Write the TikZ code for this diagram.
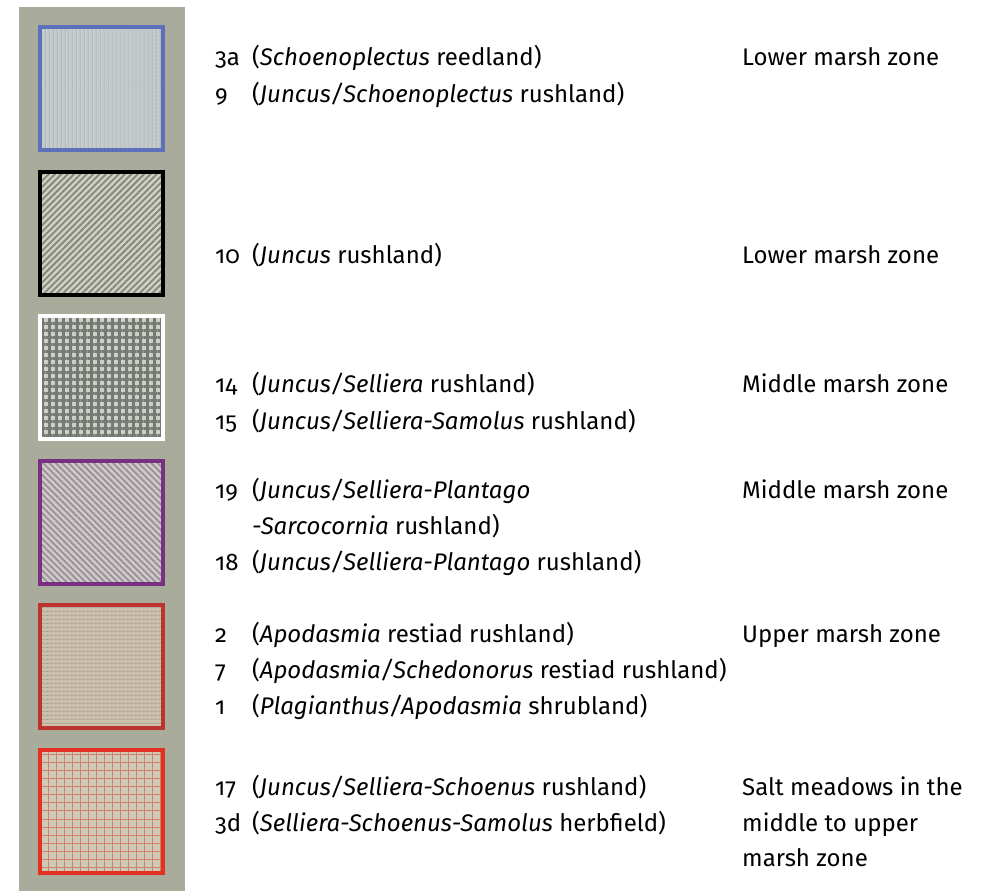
\documentclass[tikz,border=0pt]{standalone}
\usepackage{fontspec}
\setmainfont{Fira Sans}[Numbers=OldStyle]
\usetikzlibrary{patterns.meta}
\definecolor{stripgrey}{RGB}{169,172,154}
\definecolor{keyblue}{RGB}{92,112,190}
\definecolor{keypurple}{RGB}{122,48,128}
\definecolor{keydarkred}{RGB}{188,52,48}
\definecolor{keyred}{RGB}{228,48,36}
\tikzstyle{key}=[rectangle, minimum size=123pt, line width=4pt, inner sep=0pt]
\tikzstyle{key-blue}=[key, draw=keyblue, preaction={fill={rgb,255:red,196;green,201;blue,202}}, pattern={Lines[distance=4pt, angle=90, line width=1.2pt]}, pattern color={rgb,255:red,172;green,178;blue,180}]
\tikzstyle{key-black}=[key, draw=black, preaction={fill={rgb,255:red,206;green,209;blue,195}}, pattern={Lines[distance=4.5pt, angle=45, line width=1.8pt]}, pattern color={rgb,255:red,132;green,134;blue,122}]
\tikzstyle{key-white}=[key, draw=white, preaction={fill={rgb,255:red,204;green,208;blue,198}}, pattern={Hatch[distance=7pt, angle=0, line width=3pt]}, pattern color={rgb,255:red,118;green,122;blue,116}]
\tikzstyle{key-purple}=[key, draw=keypurple, preaction={fill={rgb,255:red,206;green,200;blue,200}}, pattern={Lines[distance=4.5pt, angle=-45, line width=1.6pt]}, pattern color={rgb,255:red,148;green,142;blue,148}]
\tikzstyle{key-darkred}=[key, draw=keydarkred, preaction={fill={rgb,255:red,202;green,192;blue,172}}, pattern={Lines[distance=4pt, angle=0, line width=1pt]}, pattern color={rgb,255:red,176;green,166;blue,146}]
\tikzstyle{key-red}=[key, draw=keyred, preaction={fill={rgb,255:red,206;green,202;blue,182}}, pattern={Hatch[distance=8pt, angle=0, line width=1pt]}, pattern color={rgb,255:red,208;green,128;blue,108}]
\tikzstyle{num}=[anchor=base west, inner sep=0pt]
\tikzstyle{desc}=[anchor=base west, inner sep=0pt]
\tikzstyle{zone}=[anchor=base west, inner sep=0pt]

\begin{document}
\begin{tikzpicture}[x=1pt, y=-1pt, font=\fontsize{24}{36}\selectfont]
\useasboundingbox (0,0) rectangle (995,891);

\fill[stripgrey] (19,7) rectangle (185,891);

\foreach \s/\y/\n in {key-blue/88.5/A, key-black/233.5/B, key-white/377.5/C, key-purple/522.5/D, key-darkred/666.5/E, key-red/811.5/F}
{
  \node[\s] (key\n) at (101.5,\y) {};
}

\node[num] (n3a) at (215,65) {3a};
\node[desc] (d3a) at (252,65) {(\textit{Schoenoplectus} reedland)};
\node[num] (n9) at (215,102) {9};
\node[desc] (d9) at (252,102) {(\textit{Juncus/Schoenoplectus} rushland)};
\node[zone] (zA) at (742,65) {Lower marsh zone};

\node[num] (n10) at (215,263) {10};
\node[desc] (d10) at (252,263) {(\textit{Juncus} rushland)};
\node[zone] (zB) at (742,263) {Lower marsh zone};

\node[num] (n14) at (215,392) {14};
\node[desc] (d14) at (252,392) {(\textit{Juncus/Selliera} rushland)};
\node[num] (n15) at (215,429) {15};
\node[desc] (d15) at (252,429) {(\textit{Juncus/Selliera-Samolus} rushland)};
\node[zone] (zC) at (742,392) {Middle marsh zone};

\node[num] (n19) at (215,498) {19};
\node[desc] (d19) at (252,498) {(\textit{Juncus/Selliera-Plantago}};
\node[desc] (d19b) at (252,534) {\textit{-Sarcocornia} rushland)};
\node[num] (n18) at (215,570) {18};
\node[desc] (d18) at (252,570) {(\textit{Juncus/Selliera-Plantago} rushland)};
\node[zone] (zD) at (742,498) {Middle marsh zone};

\node[num] (n2) at (215,642) {2};
\node[desc] (d2) at (252,642) {(\textit{Apodasmia} restiad rushland)};
\node[num] (n7) at (215,678) {7};
\node[desc] (d7) at (252,678) {(\textit{Apodasmia/Schedonorus} restiad rushland)};
\node[num] (n1) at (215,714) {1};
\node[desc] (d1) at (252,714) {(\textit{Plagianthus/Apodasmia} shrubland)};
\node[zone] (zE) at (742,642) {Upper marsh zone};

\node[num] (n17) at (215,795) {17};
\node[desc] (d17) at (252,795) {(\textit{Juncus/Selliera-Schoenus} rushland)};
\node[num] (n3d) at (215,831) {3d};
\node[desc] (d3d) at (252,831) {(\textit{Selliera-Schoenus-Samolus} herbfield)};
\node[zone] (zF) at (742,795) {Salt meadows in the};
\node[zone] (zF2) at (742,831) {middle to upper};
\node[zone] (zF3) at (742,866) {marsh zone};
\end{tikzpicture}
\end{document}
